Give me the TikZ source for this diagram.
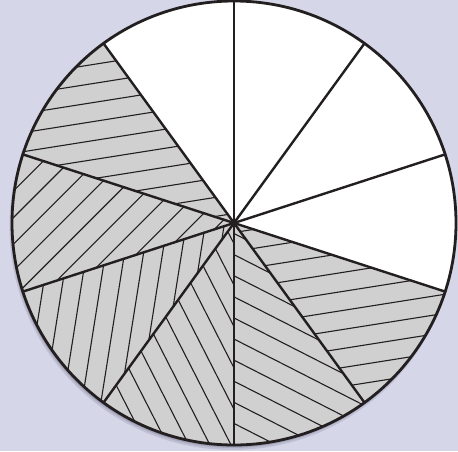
\documentclass[tikz,border=0pt]{standalone}
\definecolor{bg}{RGB}{213,214,232}
\definecolor{ink}{RGB}{35,31,32}
\definecolor{sectorgray}{RGB}{208,208,208}
\definecolor{shadowc}{RGB}{150,150,172}
\begin{document}
\begin{tikzpicture}[x=1pt,y=1pt,
  hatchline/.style={ink, line width=1.1pt},
  radial/.style={ink, line width=2.4pt, line cap=round},
  rim/.style={ink, line width=2.8pt}]
\fill[bg] (0,0) rectangle (458,451);
\useasboundingbox (0,0) rectangle (458,451);
\coordinate (O) at (234,228);
% soft shadow
\fill[shadowc, opacity=0.35] ([shift={(-1.5,-4)}]O) circle[radius=223pt];
\fill[shadowc, opacity=0.5] ([shift={(-1.2,-3)}]O) circle[radius=222pt];
\fill[shadowc, opacity=0.6] ([shift={(-0.8,-2)}]O) circle[radius=222pt];
% disc
\fill[white] (O) circle[radius=222pt];
% shaded, hatched sectors
\foreach \a in {126,162,198,234,270,306} {
  \begin{scope}
    \clip (O) -- ++(\a:222pt) arc[start angle=\a, end angle=\a+36, radius=222pt] -- cycle;
    \fill[sectorgray] (O) circle[radius=230pt];
    \begin{scope}[shift={(O)}, rotate=\a+63]
      \foreach \k in {-13,...,12}
        \draw[hatchline] (-240,{(\k+0.5)*18.8}) -- (240,{(\k+0.5)*18.8});
    \end{scope}
  \end{scope}
}
% radial lines
\foreach \a in {90,126,...,414}
  \draw[radial] (O) -- ++(\a:222pt);
% rim
\draw[rim] (O) circle[radius=222pt];
\end{tikzpicture}
\end{document}
